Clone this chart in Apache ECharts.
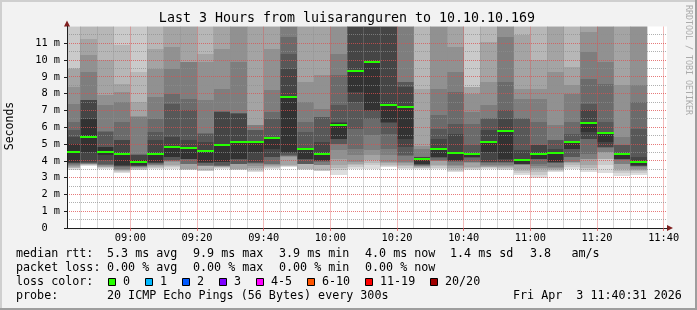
<!DOCTYPE html>
<html>
<head>
<meta charset="utf-8">
<title>SmokePing – Last 3 Hours</title>
<script src="https://cdn.jsdelivr.net/npm/echarts@6.0.0/dist/echarts.min.js"></script>
<style>
html,body{margin:0;padding:0;background:#f2f2f2;overflow:hidden}
#chart{width:697px;height:310px}
</style>
</head>
<body>
<div id="chart"></div>
<script>
// ---------------- data ----------------
const stepStarts = ['08:40','08:45','08:50','08:55','09:00','09:05','09:10','09:15','09:20','09:25','09:30','09:35',
  '09:40','09:45','09:50','09:55','10:00','10:05','10:10','10:15','10:20','10:25','10:30','10:35',
  '10:40','10:45','10:50','10:55','11:00','11:05','11:10','11:15','11:20','11:25','11:30'];
const stepMinutes = 5;
// median rtt per step (ms)
const medians = [4.54,5.43,4.54,4.38,3.95,4.38,4.84,4.76,4.60,4.92,5.14,5.14,5.38,7.82,4.72,4.38,6.15,9.36,9.90,7.30,
  7.22,4.11,4.72,4.48,4.42,5.14,5.79,4.05,4.38,4.44,5.14,6.27,5.67,4.38,3.95];
// 20 sorted ping rtts per step (ms)
const pings = [
  [3.47,3.55,3.6,3.65,3.7,3.75,3.8,3.85,3.9,3.93,5.02,5.42,5.81,6.31,7.4,8.39,9.48,9.5,12.4,13.5],
  [3.72,3.76,3.78,3.8,3.82,3.84,3.87,3.9,3.93,4.52,6.51,7.6,7.62,7.65,9.29,10.32,11.27,12.5,13,13.5],
  [3.53,3.58,3.62,3.66,3.7,3.74,3.78,3.83,4.03,4.33,4.8,4.85,5.71,5.75,7.3,7.9,9.98,12.4,13,13.5],
  [3.29,3.34,3.38,3.43,3.48,3.53,3.66,3.68,3.7,3.73,4.42,5.22,5.25,6.31,7.5,8.1,8.59,10.87,12.5,13],
  [3.43,3.48,3.53,3.6,3.63,3.65,3.67,3.69,3.71,3.73,4.03,4.33,4.36,4.42,6.61,6.65,7.5,9.29,12.5,13],
  [3.53,3.58,3.63,3.68,3.73,3.78,3.83,3.87,3.9,3.93,4.42,5.22,5.71,6.51,7.8,9.48,10.67,12.5,13,13.5],
  [3.53,3.62,3.68,3.73,3.94,3.97,4.0,4.03,4.2,4.23,4.88,5.42,7.4,8.0,9.48,10.77,12.4,12.8,13.2,13.6],
  [3.43,3.47,3.5,3.53,3.81,3.82,3.83,4.11,4.12,4.13,4.78,5.22,7.0,7.7,9.88,9.9,12.4,12.8,13.2,13.6],
  [3.38,3.4,3.43,3.67,3.69,3.71,3.73,3.87,3.9,3.93,4.62,5.12,5.62,5.65,7.6,9.88,10.38,12.4,13,13.5],
  [3.53,3.57,3.61,3.64,3.67,3.69,3.71,3.73,3.91,3.93,4.92,6.9,6.92,6.94,8.29,10.67,12.4,12.8,13.2,13.6],
  [3.44,3.47,3.5,3.53,3.79,3.8,3.81,3.83,4.1,4.13,5.16,6.81,6.83,6.85,9.88,12.4,12.8,13.2,13.6,14],
  [3.33,3.42,3.5,3.6,3.7,3.8,3.85,3.9,3.93,4.52,5.16,5.2,5.81,5.83,6.11,6.13,12.4,12.8,13.2,13.6],
  [3.53,3.6,3.65,3.7,3.75,3.8,3.83,4.2,4.23,4.72,5.4,5.42,6.51,6.9,8.19,10.67,12.4,12.8,13.2,13.6],
  [3.64,3.67,3.7,3.73,4.25,4.28,4.3,4.33,4.45,4.52,7.86,9.48,10.38,11.37,12.4,12.8,13.2,13.6,14,14.5],
  [3.47,3.5,3.53,3.79,3.8,3.81,3.82,3.83,4.1,4.13,4.76,4.78,5.71,6.31,7.5,8.69,12.4,12.8,13.2,13.6],
  [3.37,3.4,3.43,3.73,3.74,3.75,3.96,3.98,4.0,4.03,4.4,5.12,6.61,6.63,7.1,9.09,12.4,12.8,13.2,13.6],
  [3.13,3.45,3.6,3.73,4.13,4.62,5.0,5.02,5.3,5.32,6.25,6.31,7.3,9.09,10.38,12.4,12.8,13.2,13.6,14],
  [3.53,3.63,3.73,3.83,3.93,4.33,4.72,5.91,7.5,8.1,9.4,12.3,12.8,13.2,13.6,14,14.4,14.8,15.2,15.6],
  [3.53,3.75,3.9,4.03,4.33,4.62,5.52,6.51,6.98,7.0,9.95,12.3,12.8,13.2,13.6,14,14.4,14.8,15.2,15.6],
  [3.63,3.7,3.77,3.85,3.93,4.33,4.72,5.62,6.28,6.31,7.3,12.3,12.8,13.2,13.6,14,14.4,14.8,15.2,15.6],
  [3.53,3.6,3.68,3.75,3.85,3.93,4.3,4.33,4.82,5.32,7.25,8.39,8.69,8.72,12.4,12.8,13.2,13.6,14,14.4],
  [3.53,3.56,3.6,3.64,3.68,3.72,3.76,3.78,3.8,3.83,4.18,4.2,4.22,4.25,4.72,4.9,8.3,12.4,12.8,13.2],
  [3.53,3.6,3.68,3.73,3.98,4.0,4.03,4.17,4.2,4.23,4.76,5.32,5.91,6.71,8.29,12.4,12.8,13.2,13.6,14],
  [3.33,3.42,3.5,3.6,3.68,3.73,3.96,3.98,4.0,4.03,4.52,5.62,6.21,8.1,9.29,10.77,12.4,12.8,13.2,13.6],
  [3.43,3.5,3.58,3.63,3.89,3.91,3.93,4.19,4.21,4.23,4.42,4.44,4.92,6.21,6.9,8.0,8.39,8.42,12.4,13],
  [3.53,3.58,3.62,3.66,3.7,3.73,3.89,3.91,3.93,4.52,5.16,5.81,6.51,6.53,7.3,8.69,11.07,12.4,12.8,13.2],
  [3.43,3.5,3.58,3.65,3.7,3.73,3.89,3.91,3.93,4.13,5.81,6.51,7.0,8.69,11.37,12.4,12.8,13.2,13.6,14],
  [3.13,3.25,3.4,3.53,3.77,3.78,3.79,3.8,3.81,3.83,4.13,4.62,6.51,6.53,7.7,8.29,11.47,12.4,12.8,13.2],
  [2.96,3.15,3.35,3.5,3.6,3.7,3.83,4.09,4.11,4.13,4.42,4.92,4.94,6.31,7.7,8.29,9.98,12.4,12.8,13.2],
  [3.33,3.39,3.45,3.52,3.58,3.63,3.87,3.89,3.91,3.93,4.44,4.72,5.22,5.25,6.11,9.29,12.4,12.8,13.2,13.6],
  [3.53,3.63,3.73,3.89,3.91,3.93,4.2,4.23,4.7,4.72,5.18,5.2,5.62,6.31,8.0,8.49,9.58,12.4,12.8,13.2],
  [3.33,3.45,3.6,3.73,4.1,4.13,4.42,5.3,5.32,5.71,6.31,7.0,7.4,8.89,10.48,11.67,12.4,12.8,13.2,13.6],
  [3.29,3.73,4.1,4.13,4.5,4.52,4.78,4.8,4.82,5.12,5.7,5.72,6.31,8.59,9.88,12.4,12.8,13.2,13.6,14],
  [3.1,3.25,3.4,3.53,3.81,3.83,4.07,4.09,4.11,4.13,4.4,4.42,4.92,4.94,5.42,8.49,12.4,12.8,13.2,13.6],
  [3.17,3.27,3.37,3.45,3.53,3.65,3.67,3.69,3.71,3.73,3.97,4.23,5.91,7.5,8.49,12.4,12.8,13.2,13.6,14]
];
// axes / ticks
const xRange = ['08:41', '11:41'];
const xLabelTimes = ['09:00','09:20','09:40','10:00','10:20','10:40','11:00','11:20','11:40'];
const xMinorTimes = ['08:45','08:50','08:55','09:05','09:10','09:15','09:25','09:30','09:35','09:45','09:50','09:55',
  '10:05','10:10','10:15','10:25','10:30','10:35','10:45','10:50','10:55','11:05','11:10','11:15','11:25','11:30','11:35'];
const yRange = [0, 12];
const yMajor = [1,2,3,4,5,6,7,8,9,10,11];
const yMinor = [0.5,1.5,2.5,3.5,4.5,5.5,6.5,7.5,8.5,9.5,10.5,11.5];
// legend
const statsRtt = [['median rtt:',16],['5.3 ms avg',107],['9.9 ms max',193],['3.9 ms min',279],['4.0 ms now',365],['1.4 ms sd',450],['3.8',530],['am/s',571.5]];
const statsLoss = [['packet loss:',16],['0.00 % avg',107],['0.00 % max',193],['0.00 % min',279],['0.00 % now',365]];
const lossLabels = ['0','1','2','3','4-5','6-10','11-19','20/20'];
const lossColors = ['#26ff00','#00b8ff','#0059ff','#7e00ff','#ff00ff','#ff5500','#ff0000','#a00000'];
const lossSwatchX = [108,145,182,219,256,307,365,430];
const probeLine = [['probe:',16],['20 ICMP Echo Pings (56 Bytes) every 300s',107],['Fri Apr  3 11:40:31 2026',513]];
const titleText = 'Last 3 Hours from luisaranguren to 10.10.10.169';

// ---------------- styling ----------------
const MONO = '"DejaVu Sans Mono", monospace';
const smokeGrays = ['#dddddd','#cacaca','#b7b7b7','#a4a4a4','#919191','#7e7e7e','#6b6b6b','#585858','#454545','#323232'];
const GRID_MINOR = 'rgba(143,143,143,0.7)';
const GRID_MAJOR = 'rgba(222,79,79,0.75)';
const AXIS_COLOR = '#1f1f1f';
const ARROW_COLOR = '#801f1f';

const toMin = s => parseInt(s.slice(0, 2), 10) * 60 + parseInt(s.slice(3), 10);
const fmtMin = v => { const h = Math.floor(v / 60), m = Math.round(v % 60); return (h < 10 ? '0' : '') + h + ':' + (m < 10 ? '0' : '') + m; };
const crisp = v => Math.round(v - 0.5) + 0.5;

const smokeData = stepStarts.map((t, i) => [toMin(t)].concat(pings[i]));
const medianData = stepStarts.map((t, i) => [toMin(t), medians[i]]);
const gridData = []
  .concat(xMinorTimes.map(t => [0, toMin(t), 0]))
  .concat(xLabelTimes.map(t => [0, toMin(t), 1]))
  .concat(yMinor.map(v => [1, v, 0]))
  .concat(yMajor.map(v => [1, v, 1]));

const chart = echarts.init(document.getElementById('chart'), null, { renderer: 'canvas', width: 697, height: 310 });

const graphics = [
  { type: 'rect', shape: { x: 0, y: 0, width: 697, height: 2 }, style: { fill: '#cfcfcf' }, silent: true },
  { type: 'rect', shape: { x: 0, y: 0, width: 2, height: 310 }, style: { fill: '#cfcfcf' }, silent: true },
  { type: 'rect', shape: { x: 0, y: 308, width: 697, height: 2 }, style: { fill: '#9e9e9e' }, silent: true },
  { type: 'rect', shape: { x: 695, y: 0, width: 2, height: 310 }, style: { fill: '#9e9e9e' }, silent: true },
  { type: 'text', x: 347, y: 18.5, silent: true,
    style: { text: titleText, fontSize: 13.3, fontFamily: MONO, fill: '#000', align: 'center', verticalAlign: 'middle', textAlign: 'center', textVerticalAlign: 'middle' } },
  { type: 'text', x: 10, y: 126, rotation: Math.PI / 2, silent: true,
    style: { text: 'Seconds', fontSize: 11.5, fontFamily: MONO, fill: '#000', align: 'center', verticalAlign: 'middle', textAlign: 'center', textVerticalAlign: 'middle' } },
  { type: 'text', x: 688, y: 60, rotation: -Math.PI / 2, silent: true,
    style: { text: 'RRDTOOL / TOBI OETIKER', fontSize: 8.3, fontFamily: MONO, fill: '#ababab', align: 'center', verticalAlign: 'middle', textAlign: 'center', textVerticalAlign: 'middle' } }
];
function addRow(items, y) {
  items.forEach(([txt, x]) => graphics.push({ type: 'text', x: x, y: y, silent: true,
    style: { text: txt, fontSize: 11.7, fontFamily: MONO, fill: '#000', align: 'left', verticalAlign: 'middle', textAlign: 'left', textVerticalAlign: 'middle' } }));
}
addRow(statsRtt, 254.3);
addRow(statsLoss, 268.2);
addRow([['loss color:', 16]], 282);
lossLabels.forEach((lab, i) => {
  graphics.push({ type: 'rect', silent: true, shape: { x: lossSwatchX[i] + 0.5, y: 278.5, width: 7, height: 7 },
    style: { fill: lossColors[i], stroke: '#000', lineWidth: 1 } });
});
addRow(lossLabels.map((lab, i) => [lab, lossSwatchX[i] + 15]), 282);
addRow(probeLine, 296);

const arrowAxis = {
  axisLine: { show: true, onZero: false, symbol: ['none', 'triangle'], symbolSize: [6, 6], symbolOffset: [0, 3], lineStyle: { color: ARROW_COLOR, width: 1 } },
  axisTick: { show: false }, axisLabel: { show: false }, splitLine: { show: false }, minorSplitLine: { show: false }
};

const option = {
  animation: false,
  backgroundColor: '#f2f2f2',
  grid: { left: 67, top: 26.5, width: 600, height: 201.5, show: true, backgroundColor: '#ffffff', borderWidth: 0, outerBoundsMode: 'none', containLabel: false },
  xAxis: [{
    type: 'value', min: toMin(xRange[0]), max: toMin(xRange[1]), position: 'bottom', z: 7,
    axisLine: { show: true, onZero: false, lineStyle: { color: AXIS_COLOR, width: 1 } },
    axisTick: { show: true, length: 3, customValues: xLabelTimes.map(toMin), lineStyle: { color: GRID_MAJOR } },
    axisLabel: { show: true, customValues: xLabelTimes.map(toMin), formatter: v => fmtMin(v), margin: 5,
      fontSize: 10.3, fontFamily: MONO, color: '#000', showMinLabel: true, showMaxLabel: true },
    splitLine: { show: false }, minorSplitLine: { show: false }
  }, Object.assign({ type: 'value', min: toMin(xRange[0]), max: toMin(xRange[1]), position: 'bottom', offset: 0, z: 6 }, arrowAxis)],
  yAxis: [{
    type: 'value', min: yRange[0], max: yRange[1], interval: 1, position: 'left', z: 7,
    axisLine: { show: true, onZero: false, lineStyle: { color: AXIS_COLOR, width: 1 } },
    axisTick: { show: true, length: 3, lineStyle: { color: AXIS_COLOR } },
    axisLabel: { show: true, margin: 7, fontSize: 10.3, fontFamily: MONO, color: '#000', showMaxLabel: false,
      formatter: v => (v === 0 ? '0  ' : v + ' m') },
    splitLine: { show: false }, minorSplitLine: { show: false }
  }, Object.assign({ type: 'value', min: yRange[0], max: yRange[1], interval: 1, position: 'left', offset: 0, z: 6 }, arrowAxis)],
  graphic: graphics,
  series: [
    {
      name: 'smoke', type: 'custom', clip: true, silent: true, z: 2,
      data: smokeData,
      renderItem: (params, api) => {
        const t0 = api.value(0), t1 = t0 + stepMinutes;
        const kids = [];
        for (let j = 1; j < 20; j++) {
          const a = api.coord([t0, api.value(j)]);
          const b = api.coord([t1, api.value(j + 1)]);
          const x0 = Math.round(a[0]), x1 = Math.round(b[0]);
          const yLo = Math.round(a[1]), yHi = Math.round(b[1]);
          const lvl = Math.min(j, 20 - j);
          kids.push({ type: 'rect', shape: { x: x0, y: yHi, width: x1 - x0, height: yLo - yHi }, style: { fill: smokeGrays[lvl - 1] } });
        }
        return { type: 'group', children: kids };
      }
    },
    {
      name: 'grid', type: 'custom', clip: true, silent: true, z: 4,
      data: gridData,
      renderItem: (params, api) => {
        const cs = params.coordSys;
        const vertical = api.value(0) === 0, major = api.value(2) === 1;
        let shape;
        if (vertical) {
          const x = crisp(api.coord([api.value(1), yRange[0]])[0]);
          shape = { x1: x, y1: cs.y, x2: x, y2: cs.y + cs.height };
        } else {
          const y = crisp(api.coord([toMin(xRange[0]), api.value(1)])[1]);
          shape = { x1: cs.x, y1: y, x2: cs.x + cs.width, y2: y };
        }
        return { type: 'line', shape: shape, style: { stroke: major ? GRID_MAJOR : GRID_MINOR, lineWidth: 1, lineDash: [1, 1] } };
      }
    },
    {
      name: 'median', type: 'custom', clip: true, silent: true, z: 10,
      data: medianData,
      renderItem: (params, api) => {
        const t0 = api.value(0), m = api.value(1);
        const a = api.coord([t0, m]), b = api.coord([t0 + stepMinutes, m]);
        const y = Math.round(a[1]);
        return { type: 'line', shape: { x1: Math.round(a[0]), y1: y, x2: Math.round(b[0]), y2: y }, style: { stroke: '#26ff00', lineWidth: 2 } };
      }
    }
  ]
};
chart.setOption(option);
</script>
</body>
</html>
